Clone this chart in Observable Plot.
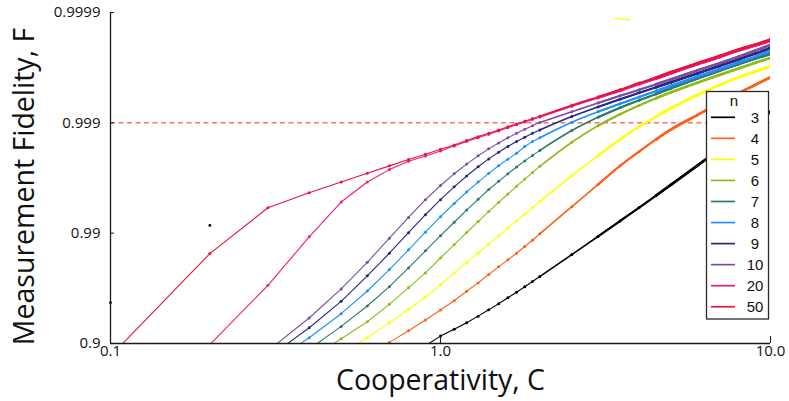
<!DOCTYPE html>
<html>
<head>
<meta charset="utf-8">
<script src="https://cdn.jsdelivr.net/npm/d3@7"></script>
<script src="https://cdn.jsdelivr.net/npm/@observablehq/plot@0.6"></script>
<style>
  body { margin: 0; background: #fff; }
  #chart { position: relative; width: 789px; height: 401px; }
</style>
</head>
<body>
<div id="chart"></div>
<script>
// Cooperativity values at which the fidelity was sampled
const cooperativity = [0.1, 0.2, 0.3, 0.4, 0.5, 0.6, 0.7, 0.8, 0.9, 1.0,
  1.1, 1.2, 1.3, 1.4, 1.5, 1.6, 1.7, 1.8, 1.9, 2.0,
  2.5, 3, 3.5, 4, 4.5, 5, 6, 7, 8, 9, 10];

// Measurement fidelity per photon number n, given as "nines": -log10(1 - F)
const ninesN3 = [null, null, null, null, null, null, null, null, 0.98, 1.067,
  1.129, 1.189, 1.248, 1.305, 1.361, 1.414, 1.465, 1.515, 1.562, 1.607,
  1.806, 1.97, 2.11, 2.232, 2.341, 2.44, 2.612, 2.759, 2.887, 2.999, 3.10];
const ninesN4 = [null, null, null, null, null, 0.88, 1.01, 1.115, 1.213, 1.304,
  1.388, 1.473, 1.549, 1.625, 1.695, 1.758, 1.818, 1.879, 1.936, 1.995,
  2.24, 2.44, 2.61, 2.74, 2.85, 2.94, 3.07, 3.18, 3.27, 3.345, 3.413];
const ninesN5 = [null, null, null, null, 0.904, 1.055, 1.188, 1.31, 1.42, 1.535,
  1.638, 1.733, 1.82, 1.90, 1.975, 2.045, 2.111, 2.173, 2.232, 2.288,
  2.52, 2.70, 2.85, 2.965, 3.057, 3.133, 3.252, 3.342, 3.412, 3.466, 3.512];
const ninesN6 = [null, null, null, 0.856, 1.043, 1.197, 1.355, 1.506, 1.64, 1.775,
  1.896, 2.006, 2.105, 2.196, 2.279, 2.355, 2.425, 2.49, 2.55, 2.606,
  2.824, 2.974, 3.078, 3.158, 3.223, 3.277, 3.364, 3.434, 3.493, 3.544, 3.589];
const ninesN7 = [null, null, null, 0.948, 1.155, 1.34, 1.515, 1.685, 1.84, 1.977,
  2.099, 2.209, 2.307, 2.396, 2.47, 2.538, 2.6, 2.655, 2.705, 2.75,
  2.93, 3.05, 3.137, 3.205, 3.262, 3.314, 3.402, 3.472, 3.532, 3.582, 3.625];
const ninesN8 = [null, null, 0.806, 1.052, 1.27, 1.476, 1.67, 1.849, 2.009, 2.149,
  2.269, 2.373, 2.463, 2.542, 2.611, 2.671, 2.724, 2.785, 2.83, 2.865,
  3.005, 3.10, 3.172, 3.234, 3.288, 3.336, 3.418, 3.486, 3.546, 3.60, 3.652];
const ninesN9 = [null, null, 0.868, 1.143, 1.382, 1.613, 1.818, 2.004, 2.167, 2.304,
  2.42, 2.518, 2.602, 2.673, 2.733, 2.785, 2.83, 2.87, 2.905, 2.936,
  3.057, 3.144, 3.214, 3.272, 3.323, 3.368, 3.448, 3.515, 3.574, 3.628, 3.68];
const ninesN10 = [null, null, 0.934, 1.231, 1.495, 1.736, 1.955, 2.143, 2.304, 2.432,
  2.538, 2.626, 2.701, 2.764, 2.818, 2.864, 2.905, 2.941, 2.973, 3.002,
  3.10, 3.18, 3.245, 3.30, 3.35, 3.395, 3.475, 3.54, 3.60, 3.655, 3.706];
const ninesN20 = [null, 0.99, 1.527, 1.967, 2.282, 2.464, 2.576, 2.652, 2.70, 2.745,
  2.79, 2.83, 2.865, 2.897, 2.927, 2.956, 2.982, 3.007, 3.031, 3.052,
  3.15, 3.225, 3.29, 3.35, 3.40, 3.45, 3.53, 3.595, 3.655, 3.70, 3.745];
const ninesN50 = [0.885, 1.815, 2.23, 2.367, 2.464, 2.543, 2.61, 2.667, 2.715, 2.76,
  2.80, 2.84, 2.875, 2.905, 2.935, 2.965, 2.99, 3.015, 3.04, 3.06,
  3.16, 3.235, 3.30, 3.36, 3.41, 3.46, 3.54, 3.605, 3.665, 3.71, 3.755];

// Isolated samples that are not joined to any neighbour
const strayN3 = [[0.1, 1.37], [0.2, 2.07]];
const strayN5 = [[3.375, 3.949], [3.765, 3.934]];

const photonNumbers = ["3", "4", "5", "6", "7", "8", "9", "10", "20", "50"];
const seriesNines = [ninesN3, ninesN4, ninesN5, ninesN6, ninesN7, ninesN8, ninesN9, ninesN10, ninesN20, ninesN50];
const seriesColors = ["#000000", "#ff5f1a", "#ffff00", "#8fbc1a", "#2b7a68",
  "#1f8fff", "#28287f", "#7d4c9f", "#ec1a82", "#e8133e"];

// Axis ticks
const xTickValues = [0.1, 1, 10];
const xTickLabels = ["0.1", "1.0", "10.0"];
const yTickValues = [1, 2, 3, 4];
const yTickLabels = ["0.9", "0.99", "0.999", "0.9999"];
const thresholdNines = 3; // F = 0.999

// Long-format table for Plot
const rows = [];
photonNumbers.forEach((n, s) => {
  seriesNines[s].forEach((k, i) => rows.push({n, C: cooperativity[i], k: k == null ? NaN : k}));
});
const defined = rows.filter(d => !isNaN(d.k));
// Markers crowd together at large C, so the trace is drawn progressively heavier there
const sparse = rows.filter(d => d.C <= 2);
const crowded = rows.filter(d => d.C >= 2);
const denser = rows.filter(d => d.C >= 3);
const densest = rows.filter(d => d.C >= 4.5);

const font = "'Open Sans', sans-serif";
const curveOpts = w => ({x: "C", y: "k", z: "n", stroke: "n", strokeWidth: w, curve: "monotone-x", clip: true});

const plot = Plot.plot({
  width: 789,
  height: 401,
  marginLeft: 110,
  marginRight: 19,
  marginTop: 12,
  marginBottom: 58,
  style: {fontFamily: font, background: "#fff", overflow: "visible"},
  x: {type: "log", domain: [0.1, 10], axis: null},
  y: {domain: [1, 4], axis: null},
  color: {domain: photonNumbers, range: seriesColors},
  marks: [
    // 0.999 threshold
    Plot.ruleY([thresholdNines], {stroke: "#ff2a1a", strokeWidth: 1, strokeDasharray: "5,3.5"}),
    // curves
    Plot.line(sparse, {x: "C", y: "k", z: "n", stroke: "n", strokeWidth: 1.1, clip: true}),
    Plot.line(crowded, curveOpts(1.6)),
    Plot.line(denser, curveOpts(2.1)),
    Plot.line(densest, curveOpts(2.6)),
    Plot.dot(defined, {x: "C", y: "k", fill: "n", r: 1.5, clip: true}),
    Plot.dot(strayN3, {x: d => d[0], y: d => d[1], fill: seriesColors[0], r: 1.4}),
    Plot.line(strayN5, {x: d => d[0], y: d => d[1], stroke: seriesColors[2], strokeWidth: 1.3}),
    // axis lines
    Plot.ruleX([0.1], {y1: 1, y2: 4, stroke: "#1a1a1a", strokeWidth: 1.3}),
    Plot.ruleY([1], {x1: 0.1, x2: 10, stroke: "#1a1a1a", strokeWidth: 1.3}),
    // inward tick marks
    Plot.axisY(yTickValues, {tickSize: 4, dx: 4, tickFormat: () => "", label: null, stroke: "#1a1a1a"}),
    Plot.axisX([1, 10], {tickSize: 7, dy: -7, tickFormat: () => "", label: null, stroke: "#1a1a1a"}),
    // tick labels
    Plot.axisY(yTickValues, {tickSize: 0, tickPadding: 10, label: null, fontSize: 15, fill: "#111",
      tickFormat: d => yTickLabels[yTickValues.indexOf(d)]}),
    Plot.axisX(xTickValues, {tickSize: 0, tickPadding: 2, label: null, fontSize: 15, fill: "#111",
      tickFormat: d => xTickLabels[xTickValues.indexOf(d)]}),
    // axis titles
    Plot.text(["Cooperativity, C"], {frameAnchor: "bottom", dy: 46, fontSize: 28.5, fill: "#111"}),
    Plot.text(["Measurement Fidelity, F"], {frameAnchor: "left", textAnchor: "middle", rotate: -90,
      dx: -86, dy: 8.5, fontSize: 28.5, fill: "#111"})
  ]
});

document.getElementById("chart").appendChild(plot);

// Boxed legend inside the plot area
const svg = d3.select(plot);
const legend = svg.append("g").attr("font-family", "'Liberation Sans', Arial, sans-serif").attr("font-size", 15).attr("fill", "#111");
legend.append("rect")
  .attr("x", 706.5).attr("y", 91.5).attr("width", 62).attr("height", 227.5)
  .attr("fill", "#fff").attr("stroke", "#2a2a2a").attr("stroke-width", 1.3);
legend.append("text").attr("x", 734).attr("y", 101).attr("dy", "0.32em").attr("text-anchor", "middle").text("n");
photonNumbers.forEach((n, i) => {
  const y = 117.3 + i * 21.05;
  legend.append("line").attr("x1", 711).attr("x2", 735).attr("y1", y).attr("y2", y)
    .attr("stroke", seriesColors[i]).attr("stroke-width", 1.7);
  legend.append("text").attr("x", 755).attr("y", y).attr("dy", "0.35em").attr("text-anchor", "middle").text(n);
});
</script>
</body>
</html>
